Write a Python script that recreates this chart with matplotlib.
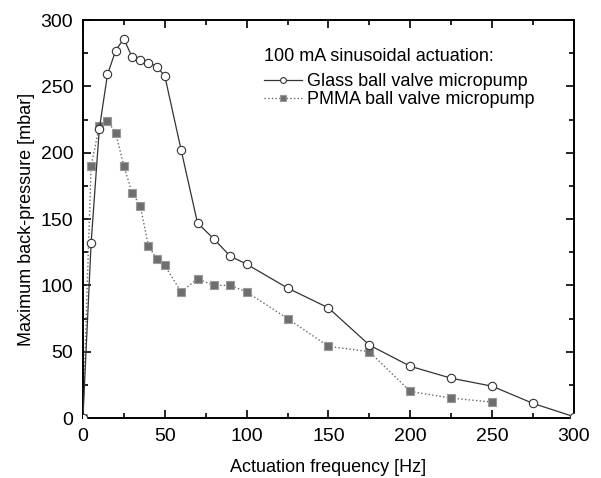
import numpy as np
import matplotlib.pyplot as plt
from matplotlib.ticker import MultipleLocator

plt.rcParams['font.family'] = ['Liberation Sans', 'DejaVu Sans']

freq_glass = [0, 5, 10, 15, 20, 25, 30, 35, 40, 45, 50, 60, 70, 80, 90, 100,
              125, 150, 175, 200, 225, 250, 275, 300]
p_glass = [0, 132, 218, 259, 277, 286, 272, 270, 268, 265, 258, 202, 147, 135,
           122, 116, 98, 83, 55, 39, 30, 24, 11, 1]

freq_pmma = [0, 5, 10, 15, 20, 25, 30, 35, 40, 45, 50, 60, 70, 80, 90, 100,
             125, 150, 175, 200, 225, 250]
p_pmma = [0, 190, 220, 224, 215, 190, 170, 160, 130, 120, 115, 95, 105, 100,
          100, 95, 75, 54, 50, 20, 15, 12]

fig = plt.figure(figsize=(6.01, 4.78), dpi=100)
ax = fig.add_axes([0.138, 0.1255, 0.817, 0.8325])

ax.plot(freq_glass, p_glass, '-', color='#333333', lw=0.9, marker='o', ms=6,
        mfc='white', mec='#333333', mew=0.8, label='Glass ball valve micropump', zorder=3)
ax.plot(freq_pmma, p_pmma, ':', color='#666666', lw=1.0, marker='s', ms=5.5,
        mfc='#6e6e6e', mec='#999999', mew=0.8, label='PMMA ball valve micropump', zorder=2)

ax.set_xlim(0, 300)
ax.set_ylim(0, 300)
ax.xaxis.set_major_locator(MultipleLocator(50))
ax.xaxis.set_minor_locator(MultipleLocator(25))
ax.yaxis.set_major_locator(MultipleLocator(50))
ax.yaxis.set_minor_locator(MultipleLocator(25))
ax.tick_params(which='both', direction='in', top=True, right=True, width=1.2)
ax.tick_params(which='major', length=6, labelsize=14, pad=7)
ax.tick_params(which='minor', length=3.5)
for s in ax.spines.values():
    s.set_linewidth(1.4)

ax.set_xlabel('Actuation frequency [Hz]', fontsize=13, labelpad=10)
ax.set_ylabel('Maximum back-pressure [mbar]', fontsize=13, labelpad=4)

leg = ax.legend(title='100 mA sinusoidal actuation:', loc='upper left',
                bbox_to_anchor=(0.368, 0.93), frameon=False, fontsize=13,
                title_fontsize=13, handlelength=2.1, handletextpad=0.3,
                labelspacing=0.05, markerscale=0.7, borderpad=0, borderaxespad=0)
leg._legend_box.align = 'left'
leg._legend_box.sep = 6

fig.savefig('out.png', dpi=100)
